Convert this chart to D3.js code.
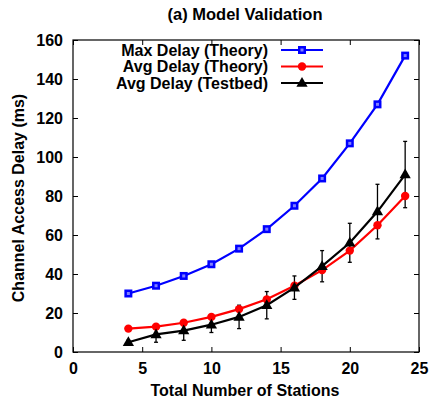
<!DOCTYPE html>
<html><head><meta charset="utf-8">
<script src="https://cdn.jsdelivr.net/npm/d3@7"></script>
<style>body{margin:0;background:#fff}text{font-family:"Liberation Sans",Arial,sans-serif;font-weight:bold}</style>
</head><body><svg id="c" width="431" height="402"></svg>
<script>
const stations = [4,6,8,10,12,14,16,18,20,22,24];
const maxTheory = [30,34,39,45,53,63,75,89,107,127,152];
const avgTheory = [12,13,15,18,22,27,34,42,52,65,80];
const avgTestbed = [5,9,11,14,18,24,33,44,56,72,91];
const testbedErr = [1,4,5,4,6,7,6,8,10,14,17];
const xTicks = [0,5,10,15,20,25];
const yTicks = [0,20,40,60,80,100,120,140,160];
const seriesNames = ["Max Delay (Theory)","Avg Delay (Theory)","Avg Delay (Testbed)"];
const colors = ["#0000ff","#ff0000","#000000"];

const svg = d3.select("#c");
const L=73,R=419,T=40,B=352;
const FS=16;
const x = d3.scaleLinear().domain([0,25]).range([L,R]);
const y = d3.scaleLinear().domain([0,160]).range([B,T]);

// title
svg.append("text").attr("x",245).attr("y",20).attr("text-anchor","middle").attr("font-size",16.5).text("(a) Model Validation");

// axes with inward ticks
const gx = svg.append("g").attr("transform",`translate(0,${B})`).call(d3.axisBottom(x).tickValues(xTicks).tickSize(-5).tickPadding(11));
const gxt = svg.append("g").attr("transform",`translate(0,${T})`).call(d3.axisTop(x).tickValues(xTicks).tickSize(-5).tickFormat(""));
const gy = svg.append("g").attr("transform",`translate(${L},0)`).call(d3.axisLeft(y).tickValues(yTicks).tickSize(-5).tickPadding(10));
const gyr = svg.append("g").attr("transform",`translate(${R},0)`).call(d3.axisRight(y).tickValues(yTicks).tickSize(-5).tickFormat(""));
[gx,gxt,gy,gyr].forEach(g=>{g.select(".domain").remove();g.selectAll("line").attr("stroke","#000").attr("stroke-width",1);g.selectAll("text").attr("font-size",FS).attr("fill","#000").style("font-family","Liberation Sans, Arial, sans-serif").style("font-weight","bold");});
svg.append("rect").attr("x",L).attr("y",T).attr("width",R-L).attr("height",B-T).attr("fill","none").attr("stroke","#000").attr("stroke-width",1.2);

// axis labels
svg.append("text").attr("x",245).attr("y",396).attr("text-anchor","middle").attr("font-size",FS).text("Total Number of Stations");
svg.append("text").attr("transform","translate(24,198) rotate(-90)").attr("text-anchor","middle").attr("font-size",FS).text("Channel Access Delay (ms)");

const line = d3.line().x(d=>x(d[0])).y(d=>y(d[1]));
const data = [maxTheory,avgTheory,avgTestbed].map(arr=>stations.map((s,i)=>[s,arr[i]]));

// error bars
const eg = svg.append("g").attr("stroke","#000").attr("stroke-width",1.3);
stations.forEach((s,i)=>{
  const cx=x(s), y1=y(avgTestbed[i]+testbedErr[i]), y2=y(avgTestbed[i]-testbedErr[i]);
  eg.append("line").attr("x1",cx).attr("x2",cx).attr("y1",y1).attr("y2",y2);
  eg.append("line").attr("x1",cx-2).attr("x2",cx+2).attr("y1",y1).attr("y2",y1);
  eg.append("line").attr("x1",cx-2).attr("x2",cx+2).attr("y1",y2).attr("y2",y2);
});

function marker(g,k,cx,cy){
  if(k===0){
    g.append("rect").attr("x",cx-4).attr("y",cy-4).attr("width",8).attr("height",8).attr("fill",colors[0]);
    g.append("rect").attr("x",cx-1.5).attr("y",cy-1.5).attr("width",3).attr("height",3).attr("fill","#8080ff");
  } else if(k===1){
    g.append("circle").attr("cx",cx).attr("cy",cy).attr("r",4.2).attr("fill",colors[1]);
  } else {
    g.append("path").attr("d",d3.symbol(d3.symbolTriangle,55)()).attr("transform",`translate(${cx},${cy+0.5})`).attr("fill",colors[2]);
  }
}

data.forEach((d,k)=>{
  svg.append("path").datum(d).attr("d",line).attr("fill","none").attr("stroke",colors[k]).attr("stroke-width",2.2);
  const g=svg.append("g");
  d.forEach(p=>marker(g,k,x(p[0]),y(p[1])));
});

// legend
seriesNames.forEach((n,k)=>{
  const ly=50+k*16.5;
  svg.append("text").attr("x",268).attr("y",ly+5.5).attr("text-anchor","end").attr("font-size",FS).text(n);
  svg.append("line").attr("x1",281).attr("x2",323).attr("y1",ly).attr("y2",ly).attr("stroke",colors[k]).attr("stroke-width",2.2);
  marker(svg,k,302,ly);
});
</script></body></html>
